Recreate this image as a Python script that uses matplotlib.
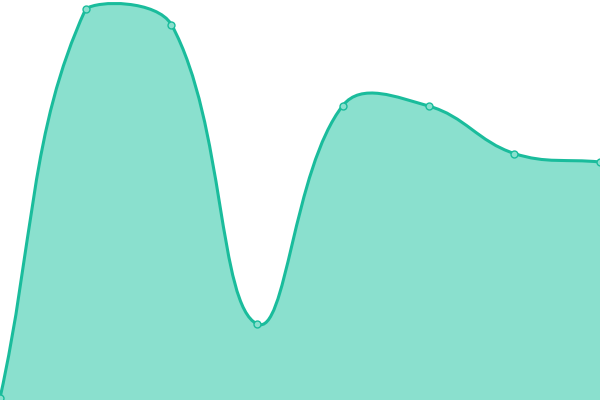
import numpy as np
import matplotlib
matplotlib.use("Agg")
import matplotlib.pyplot as plt
from matplotlib.path import Path
from matplotlib.patches import PathPatch

# data (value per step, y axis 0..400)
steps = [0, 1, 2, 3, 4, 5, 6, 7]
values = [2, 391, 375.5, 76, 294.5, 294, 246.5, 238]

LINE = "#1abc9c"
FILL = "#8ae0ce"
TENSION = 0.4

W, H = 600, 400
XMAX, YMAX = 7, 400


def to_px(x, y):
    return np.array([x * W / XMAX, y * H / YMAX])


def from_px(p):
    return p[0] * XMAX / W, p[1] * YMAX / H


def spline_controls(pts, t):
    """Chart.js-style spline control points (in pixel space)."""
    ctrl = []
    n = len(pts)
    for i in range(n):
        prev = pts[i - 1] if i > 0 else pts[i]
        cur = pts[i]
        nxt = pts[i + 1] if i < n - 1 else pts[i]
        d01 = np.hypot(*(cur - prev))
        d12 = np.hypot(*(nxt - cur))
        tot = d01 + d12
        s01 = d01 / tot if tot else 0
        s12 = d12 / tot if tot else 0
        fa, fb = t * s01, t * s12
        c_prev = cur - fa * (nxt - prev)
        c_next = cur + fb * (nxt - prev)
        c_prev[1] = min(max(c_prev[1], 0), H)
        c_next[1] = min(max(c_next[1], 0), H)
        ctrl.append((c_prev, c_next))
    return ctrl


pts = [to_px(x, y) for x, y in zip(steps, values)]
ctrl = spline_controls(pts, TENSION)

verts = [from_px(pts[0])]
codes = [Path.MOVETO]
for i in range(1, len(pts)):
    verts += [from_px(ctrl[i - 1][1]), from_px(ctrl[i][0]), from_px(pts[i])]
    codes += [Path.CURVE4] * 3
line_path = Path(verts, codes)

fill_verts = verts + [(steps[-1], 0), (steps[0], 0), verts[0]]
fill_codes = codes + [Path.LINETO, Path.LINETO, Path.CLOSEPOLY]
fill_path = Path(fill_verts, fill_codes)

fig = plt.figure(figsize=(6, 4), dpi=100)
ax = fig.add_axes([0, 0, 1, 1])
ax.add_patch(PathPatch(fill_path, facecolor=FILL, edgecolor="none"))
ax.add_patch(PathPatch(line_path, facecolor="none", edgecolor=LINE, lw=2.2))
ax.plot(steps, values, "o", ms=5, mfc=FILL, mec=LINE, mew=1, clip_on=False)
ax.set_xlim(0, XMAX)
ax.set_ylim(0, YMAX)
ax.axis("off")

fig.savefig("out.png", dpi=100)
